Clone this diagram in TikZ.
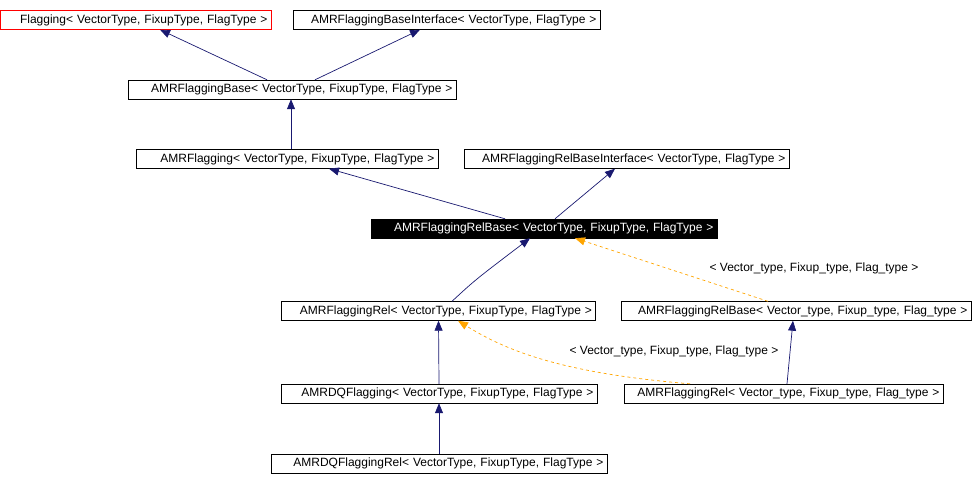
\documentclass[tikz,border=0pt]{standalone}
\usepackage{fontspec}
\setmainfont{Liberation Sans}
\usetikzlibrary{arrows.meta}
\definecolor{edgeblue}{RGB}{25,25,112}
\definecolor{tmplorange}{RGB}{255,165,0}
\tikzstyle{cls}=[draw,minimum height=19pt,inner xsep=3.5pt,inner ysep=0pt,align=right,font=\fontsize{12}{14}\selectfont]
\tikzstyle{inh}=[edgeblue,line width=0.7pt,-{Triangle[length=10pt,width=8pt]}]
\tikzstyle{tmpl}=[tmplorange,line width=0.7pt,dashed,-{Triangle[length=10pt,width=8pt]}]
\tikzstyle{lbl}=[inner sep=0pt,font=\fontsize{12}{14}\selectfont]

\begin{document}
\begin{tikzpicture}[x=1pt,y=1pt]
\useasboundingbox (0,0) rectangle (973,485);
\node[cls,draw=red,text width=264pt] (flag) at (135.5,465) {Flagging< VectorType, FixupType, FlagType >};
\node[cls,text width=300pt] (baseif) at (446.5,465) {AMRFlaggingBaseInterface< VectorType, FlagType >};
\node[cls,text width=321pt] (base) at (292,395.5) {AMRFlaggingBase< VectorType, FixupType, FlagType >};
\node[cls,text width=295pt] (amrflag) at (287,326) {AMRFlagging< VectorType, FixupType, FlagType >};
\node[cls,text width=318pt] (relbaseif) at (626.5,326) {AMRFlaggingRelBaseInterface< VectorType, FlagType >};
\node[cls,fill=black,text=white,text width=339pt] (relbase) at (544,256.5) {AMRFlaggingRelBase< VectorType, FixupType, FlagType >};
\node[cls,text width=307pt] (rel) at (438.5,174) {AMRFlaggingRel< VectorType, FixupType, FlagType >};
\node[cls,text width=343pt] (relbasev) at (796,174) {AMRFlaggingRelBase< Vector\_type, Fixup\_type, Flag\_type >};
\node[cls,text width=309pt] (dq) at (439,91.5) {AMRDQFlagging< VectorType, FixupType, FlagType >};
\node[cls,text width=312pt] (relv) at (783.5,91.5) {AMRFlaggingRel< Vector\_type, Fixup\_type, Flag\_type >};
\node[cls,text width=329pt] (dqrel) at (439,21.5) {AMRDQFlaggingRel< VectorType, FixupType, FlagType >};
\node[lbl] (lblbase) at (814,217) {< Vector\_type, Fixup\_type, Flag\_type >};
\node[lbl] (lblrel) at (674,134) {< Vector\_type, Fixup\_type, Flag\_type >};
\draw[inh] ([xshift=-25pt]base.north) -- ([xshift=24.5pt]flag.south);
\draw[inh] ([xshift=23pt]base.north) -- ([xshift=-26.5pt]baseif.south);
\draw[inh] ([xshift=4pt]amrflag.north) -- ([xshift=-1pt]base.south);
\draw[inh] ([xshift=-39pt]relbase.north) -- ([xshift=42pt]amrflag.south);
\draw[inh] ([xshift=11pt]relbase.north) -- ([xshift=-11.5pt]relbaseif.south);
\draw[inh] ([xshift=13.5pt]rel.north) .. controls (475,205) .. ([xshift=-14pt]relbase.south);
\draw[tmpl] ([xshift=-28pt]relbasev.north) -- ([xshift=31pt]relbase.south);
\draw[inh] (dq.north) -- (rel.south);
\draw[tmpl] ([xshift=-93.5pt]relv.north) .. controls (560,112) and (505,135) .. ([xshift=19.5pt]rel.south);
\draw[inh] ([xshift=3.5pt]relv.north) -- ([xshift=-3pt]relbasev.south);
\draw[inh] (dqrel.north) -- (dq.south);
\end{tikzpicture}
\end{document}
